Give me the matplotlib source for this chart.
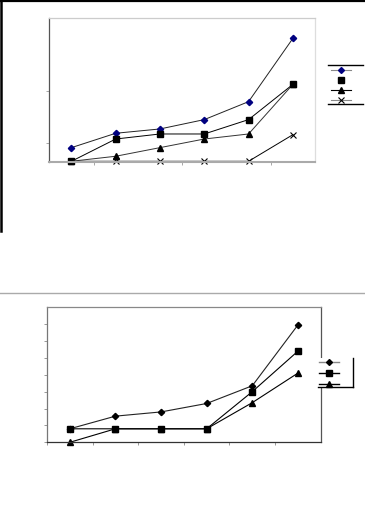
import matplotlib
matplotlib.use("Agg")
import matplotlib.pyplot as plt
from matplotlib.lines import Line2D
from matplotlib.patches import Rectangle

# ---- data (text labels lost in the scanned reference) ----
categories = ["1", "2", "3", "4", "5", "6"]

top_s1 = [1.0, 2.0, 2.3, 2.95, 4.2, 8.6]
top_s2 = [0.05, 1.6, 1.95, 1.95, 2.95, 5.4]
top_s3 = [0.05, 0.4, 1.0, 1.6, 1.95, 5.4]
top_s4 = [0.05, 0.05, 0.05, 0.05, 0.05, 1.9]

bot_s1 = [0.8, 1.55, 1.8, 2.3, 3.35, 6.95]
bot_s2 = [0.8, 0.8, 0.8, 0.8, 3.0, 5.4]
bot_s3 = [0.0, 0.8, 0.8, 0.8, 2.35, 4.1]

W, H = 365, 512
fig = plt.figure(figsize=(3.65, 5.12), dpi=100)

def fx(px):
    return px / W

def fy(py):
    return 1 - py / H

x = list(range(len(categories)))

# ---------------- top chart ----------------
ax1 = fig.add_axes([fx(49.3), fy(162), fx(315) - fx(49.3), fy(18.3) - fy(162)])
ax1.plot(x, top_s1, color="#222222", lw=0.7, marker="D", ms=3.2,
         mfc="#000080", mec="#000080", clip_on=False)
ax1.plot(x, top_s2, color="black", lw=0.7, marker="s", ms=4.2,
         mfc="black", mec="black", clip_on=False)
ax1.plot(x, top_s3, color="#333333", lw=0.7, marker="^", ms=4.2,
         mfc="black", mec="black", clip_on=False)
ax1.plot(x, top_s4, color="black", lw=0.7, marker="x", ms=4.0,
         mec="black", mew=0.8, clip_on=False)
ax1.set_xlim(-0.5, len(categories) - 0.5)
ax1.set_ylim(0, 10)
ax1.set_xticks([i + 0.5 for i in range(0, len(categories) - 1, 2)])
ax1.set_xticklabels([])
ax1.set_yticks([1.32, 4.94])
ax1.set_yticklabels([])
ax1.tick_params(direction="out", length=2, width=0.6, colors="#999999")
ax1.spines["top"].set_color("#cccccc")
ax1.spines["right"].set_color("#dddddd")
ax1.spines["left"].set_color("#555555")
ax1.spines["bottom"].set_color("#aaaaaa")
ax1.spines["bottom"].set_linewidth(1.5)
for s in ax1.spines.values():
    if s is not ax1.spines["bottom"]:
        s.set_linewidth(0.9)

# legend for top chart
h1 = [
    Line2D([], [], color="#888888", lw=0.8, marker="D", ms=3.0, mfc="#000080", mec="#000080"),
    Line2D([], [], color="white", lw=0.8, marker="s", ms=4.0, mfc="black", mec="black"),
    Line2D([], [], color="black", lw=0.8, marker="^", ms=4.0, mfc="black", mec="black"),
    Line2D([], [], color="#888888", lw=0.8, marker="x", ms=4.0, mec="black", mew=0.8),
]
leg1 = fig.legend(h1, [""] * 4, loc="upper left",
                  bbox_to_anchor=(fx(328.5), fy(65.5)), frameon=False,
                  fontsize=5, handlelength=3.0, labelspacing=0.58,
                  handletextpad=0.2, borderpad=0.3, borderaxespad=0)
fig.add_artist(Line2D([fx(328), fx(363)], [fy(65), fy(65)], color="black", lw=1.0))
fig.add_artist(Line2D([fx(328), fx(363)], [fy(104), fy(104)], color="black", lw=1.0))

# outer frame of upper figure
fig.add_artist(Line2D([0, 1], [fy(0.8), fy(0.8)], color="black", lw=1.6))
fig.add_artist(Line2D([fx(1.0), fx(1.0)], [1, fy(231)], color="black", lw=1.8))

# separator line
fig.add_artist(Line2D([0, 1], [fy(292.5), fy(292.5)], color="#aaaaaa", lw=1.0))

# ---------------- bottom chart ----------------
ax2 = fig.add_axes([fx(47), fy(442.3), fx(320.7) - fx(47), fy(307.3) - fy(442.3)])
ax2.plot(x, bot_s1, color="#222222", lw=0.8, marker="D", ms=3.2,
         mfc="black", mec="black", clip_on=False)
ax2.plot(x, bot_s2, color="black", lw=0.8, marker="s", ms=4.4,
         mfc="black", mec="black", clip_on=False)
ax2.plot(x, bot_s3, color="black", lw=0.8, marker="^", ms=4.4,
         mfc="black", mec="black", clip_on=False)
ax2.set_xlim(-0.5, len(categories) - 0.5)
ax2.set_ylim(0, 8)
ax2.set_xticks([i - 0.5 for i in range(0, len(categories))])
ax2.set_xticklabels([])
ax2.set_yticks(range(0, 8))
ax2.set_yticklabels([])
ax2.tick_params(direction="out", length=2.5, width=0.6, colors="#888888")
ax2.spines["top"].set_color("#888888")
ax2.spines["right"].set_color("#555555")
ax2.spines["left"].set_color("#777777")
ax2.spines["bottom"].set_color("#333333")
for s in ax2.spines.values():
    s.set_linewidth(0.9)

# legend for bottom chart
fig.add_artist(Rectangle((fx(317.7), fy(387.3)), fx(353.3) - fx(317.7),
                         fy(358) - fy(387.3), facecolor="white", edgecolor="none",
                         zorder=3))
fig.add_artist(Line2D([fx(353.3), fx(353.3)], [fy(358), fy(387.3)], color="black", lw=1.0, zorder=4))
fig.add_artist(Line2D([fx(317.7), fx(353.3)], [fy(387.3), fy(387.3)], color="black", lw=1.0, zorder=4))
h2 = [
    Line2D([], [], color="#888888", lw=1.0, marker="D", ms=3.0, mfc="black", mec="black"),
    Line2D([], [], color="black", lw=1.0, marker="s", ms=4.2, mfc="black", mec="black"),
    Line2D([], [], color="black", lw=1.0, marker="^", ms=4.2, mfc="black", mec="black"),
]
leg2 = fig.legend(h2, [""] * 3, loc="upper left",
                  bbox_to_anchor=(fx(316.5), fy(357.5)), frameon=False,
                  fontsize=5, handlelength=3.0, labelspacing=0.72,
                  handletextpad=0.2, borderpad=0.3, borderaxespad=0)
leg2.set_zorder(5)

fig.savefig("out.png", dpi=100)
